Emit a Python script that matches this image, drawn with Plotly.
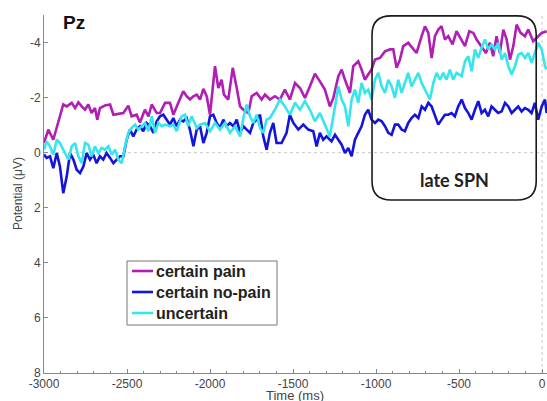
import plotly.graph_objects as go

# ---------------- data ----------------
pain_t = [-3000, -2974, -2944, -2884, -2863, -2833, -2813, -2793, -2773, -2753, -2733, -2713, -2693, -2679,
          -2663, -2633, -2602, -2582, -2552, -2522, -2492, -2472, -2442, -2422, -2392, -2371, -2351, -2321,
          -2301, -2271, -2241, -2221, -2191, -2161, -2141, -2121, -2100, -2080, -2060, -2040, -2020, -2000,
          -1970, -1950, -1930, -1916, -1890, -1863, -1839, -1819, -1799, -1769, -1749, -1719, -1689, -1669,
          -1639, -1609, -1579, -1549, -1519, -1488, -1458, -1428, -1398, -1368, -1338, -1308, -1278, -1257,
          -1227, -1207, -1187, -1157, -1137, -1107, -1087, -1067, -1047, -1027, -1006, -976, -946, -916,
          -896, -876, -856, -836, -806, -776, -756, -725, -705, -685, -665, -645, -625, -605, -585, -565,
          -539, -515, -484, -464, -438, -414, -394, -364, -338, -314, -294, -274, -254, -233, -213, -193,
          -173, -153, -129, -103, -83, -53, -33, -2, 28]
pain_v = [-0.35, -0.84, -0.47, -1.75, -1.68, -1.81, -1.62, -1.83, -1.68, -1.56, -1.75, -1.44, -1.62, -1.20,
          -1.62, -1.71, -1.75, -1.38, -1.41, -1.44, -1.71, -1.32, -1.38, -1.10, -1.56, -1.32, -1.75, -1.44,
          -1.44, -1.81, -1.81, -1.38, -1.81, -2.23, -2.05, -1.93, -2.05, -2.11, -1.93, -2.32, -2.05, -1.38,
          -3.14, -2.35, -2.65, -2.11, -1.93, -3.08, -2.35, -1.68, -1.56, -1.44, -2.05, -2.17, -1.93, -2.11,
          -1.93, -2.05, -1.93, -2.29, -1.93, -2.53, -2.35, -1.99, -2.41, -2.87, -2.59, -2.29, -1.68, -1.99,
          -2.78, -3.02, -2.65, -2.17, -3.14, -3.32, -3.02, -2.65, -2.84, -3.02, -3.38, -3.44, -3.68, -3.75,
          -3.75, -3.08, -3.38, -3.87, -3.99, -3.75, -3.62, -4.23, -4.59, -4.35, -3.44, -4.23, -4.47, -4.59,
          -4.11, -4.23, -3.93, -4.41, -4.11, -3.87, -4.41, -4.35, -4.11, -3.87, -3.62, -3.99, -3.50, -4.23,
          -3.62, -4.47, -4.11, -3.38, -3.87, -4.65, -4.35, -4.23, -4.47, -4.05, -4.17, -4.35, -4.41]

nopain_t = [-3000, -2984, -2964, -2944, -2923, -2904, -2884, -2863, -2843, -2823, -2803, -2783, -2763, -2743,
            -2723, -2703, -2683, -2663, -2643, -2623, -2602, -2582, -2562, -2542, -2522, -2502, -2482, -2462,
            -2442, -2422, -2402, -2382, -2361, -2341, -2321, -2301, -2281, -2261, -2241, -2221, -2201, -2181,
            -2161, -2141, -2121, -2100, -2080, -2060, -2040, -2020, -2000, -1980, -1960, -1940, -1920, -1900,
            -1880, -1859, -1839, -1819, -1799, -1779, -1759, -1739, -1719, -1699, -1679, -1659, -1639, -1619,
            -1599, -1569, -1539, -1519, -1498, -1468, -1438, -1408, -1378, -1358, -1338, -1318, -1298, -1268,
            -1247, -1227, -1207, -1187, -1167, -1147, -1127, -1107, -1087, -1067, -1047, -1027, -1006, -986,
            -966, -946, -926, -906, -886, -866, -846, -826, -806, -786, -766, -745, -725, -705, -685, -665,
            -645, -625, -605, -585, -565, -545, -525, -505, -484, -464, -444, -424, -404, -384, -364, -344,
            -324, -304, -284, -264, -243, -223, -203, -183, -163, -143, -123, -103, -83, -63, -43, -23, -2,
            18, 28]
nopain_v = [0.07, 0.19, 0.13, 0.56, 0.01, 0.50, 1.47, 0.86, 0.01, 0.25, 0.62, 0.74, 0.50, 0.01,
            0.25, 0.07, 0.38, 0.13, 0.25, 0.01, 0.19, 0.38, 0.25, 0.13, 0.13, -0.47, -0.84, -0.59,
            -0.84, -0.96, -0.78, -1.08, -0.96, -0.72, -1.14, -1.32, -1.38, -1.20, -1.02, -1.26, -0.96, -1.20,
            -1.14, -1.26, -0.84, -0.23, -0.84, -0.96, -0.35, -0.72, -1.32, -1.38, -1.08, -0.90, -1.20, -0.96,
            -1.08, -0.96, -1.20, -0.72, -0.96, -0.84, -0.72, -1.08, -1.20, -1.38, -0.59, -0.11, -0.72, -1.08,
            -0.35, -0.35, -0.72, -1.38, -1.08, -0.84, -1.02, -0.84, -0.78, -0.23, -0.72, -0.47, -0.59, -0.41,
            -0.65, -0.47, -0.29, 0.01, -0.17, 0.13, -0.47, -0.72, -0.96, -1.38, -1.56, -1.20, -1.08, -1.20,
            -1.14, -0.96, -0.72, -0.65, -1.02, -1.02, -0.84, -0.78, -1.08, -1.26, -1.38, -1.26, -1.68, -1.56,
            -1.81, -1.68, -1.32, -1.02, -1.20, -1.38, -1.38, -1.44, -1.32, -1.68, -1.93, -1.62, -1.44, -1.20,
            -1.56, -1.87, -1.44, -1.56, -1.32, -1.68, -1.56, -1.44, -1.50, -1.81, -1.68, -1.44, -1.56, -1.68,
            -1.50, -1.62, -1.56, -1.44, -1.81, -1.20, -1.68, -1.93, -1.44]

unc_t = [-3000, -2984, -2964, -2944, -2923, -2904, -2874, -2853, -2833, -2813, -2793, -2773, -2753, -2733,
         -2713, -2693, -2673, -2653, -2633, -2612, -2592, -2572, -2552, -2532, -2512, -2492, -2472, -2452,
         -2432, -2412, -2392, -2371, -2351, -2331, -2311, -2291, -2271, -2241, -2221, -2201, -2171, -2151,
         -2131, -2111, -2080, -2060, -2030, -2000, -1970, -1940, -1910, -1880, -1849, -1819, -1799, -1779,
         -1759, -1739, -1719, -1699, -1679, -1659, -1639, -1609, -1579, -1549, -1519, -1488, -1458, -1428,
         -1398, -1368, -1338, -1308, -1278, -1247, -1227, -1207, -1187, -1167, -1147, -1127, -1107, -1087,
         -1067, -1047, -1027, -1006, -986, -966, -946, -926, -906, -886, -866, -846, -826, -806, -786,
         -766, -745, -725, -695, -675, -655, -635, -615, -595, -575, -555, -535, -515, -484, -464, -444,
         -424, -404, -384, -364, -344, -324, -304, -284, -264, -243, -223, -203, -183, -163, -143, -123,
         -103, -83, -63, -43, -23, -2, 18, 28]
unc_v = [-0.11, -0.41, -0.23, 0.07, -0.47, -0.35, 0.01, 0.25, -0.23, -0.35, 0.13, 0.38, -0.35, -0.29,
         0.13, -0.23, 0.01, -0.17, -0.11, -0.23, 0.07, -0.11, 0.25, 0.38, -0.23, -0.72, -0.90, -1.02,
         -0.84, -0.96, -1.08, -0.78, -1.32, -0.72, -1.08, -0.96, -1.02, -0.96, -1.02, -0.78, -1.32, -1.38,
         -0.96, -1.32, -0.90, -1.02, -1.08, -0.78, -1.08, -0.84, -1.08, -0.72, -0.96, -0.59, -1.26, -1.75,
         -1.32, -1.08, -1.38, -0.90, -0.72, -1.20, -1.26, -1.56, -1.93, -1.68, -1.38, -1.81, -1.56, -1.87,
         -1.56, -1.14, -1.44, -1.02, -0.59, -1.68, -2.41, -1.93, -1.68, -0.96, -1.93, -2.29, -1.81, -2.53,
         -2.17, -2.29, -1.93, -2.65, -2.90, -2.41, -2.17, -2.65, -2.41, -1.99, -2.65, -2.17, -2.53, -2.90, -2.41,
         -2.65, -2.90, -2.53, -2.17, -1.93, -2.53, -2.90, -2.65, -2.90, -2.65, -3.02, -2.65, -2.90, -2.78, -3.32, -3.50,
         -2.96, -3.75, -3.44, -3.81, -4.11, -3.75, -3.93, -3.75, -3.99, -3.38, -3.62, -3.14, -2.84, -3.14, -3.56, -3.62,
         -3.44, -3.62, -3.26, -3.62, -3.99, -3.75, -3.14, -3.02]

series_names = ["certain pain", "certain no-pain", "uncertain"]
series_colors = ["#B01EB4", "#1414DC", "#36E6EA"]

x_ticks = [-3000, -2500, -2000, -1500, -1000, -500, 0]
x_ticklabels = ["-3000", "-2500", "-2000", "-1500", "-1000", "-500", "0"]
y_ticks = [-4, -2, 0, 2, 4, 6, 8]
y_ticklabels = ["-4", "-2", "0", "2", "4", "6", "8"]

# late SPN window (ms) and vertical extent (µV)
spn_x = [-1024, -35]
spn_y = [-4.97, 1.72]

# figure geometry (page body margin is removed, so screen pixels == figure pixels)
W, H = 547, 401
PLOT_L, PLOT_R, PLOT_T, PLOT_B = 44, 547, 15, 373     # plot area in screen pixels
ML, MT = PLOT_L, PLOT_T
MR = W - PLOT_R
MB = H - PLOT_B
PW, PH = W - ML - MR, H - MT - MB


def px_x(px):
    return (px - PLOT_L) / PW


def px_y(py):
    return 1 - (py - PLOT_T) / PH


fig = go.Figure()
for t, v, name, col in zip([pain_t, nopain_t, unc_t], [pain_v, nopain_v, unc_v],
                           series_names, series_colors):
    fig.add_trace(go.Scatter(x=t, y=v, mode="lines", name=name,
                             line=dict(color=col, width=2.6), showlegend=False))

# zero reference lines
fig.add_shape(type="line", xref="paper", yref="y", x0=0, x1=1, y0=0, y1=0,
              line=dict(color="#c8c8c8", width=1, dash="dot"), layer="below")
fig.add_shape(type="line", xref="x", yref="paper", x0=0, x1=0, y0=0, y1=1,
              line=dict(color="#c8c8c8", width=1, dash="dot"), layer="below")

# rounded "late SPN" box
x0, x1 = spn_x
y0, y1 = spn_y
rx, ry = 115, 0.68
path = (f"M {x0+rx},{y0} L {x1-rx},{y0} Q {x1},{y0} {x1},{y0+ry} "
        f"L {x1},{y1-ry} Q {x1},{y1} {x1-rx},{y1} L {x0+rx},{y1} "
        f"Q {x0},{y1} {x0},{y1-ry} L {x0},{y0+ry} Q {x0},{y0} {x0+rx},{y0} Z")
fig.add_shape(type="path", path=path, xref="x", yref="y",
              line=dict(color="#1a1a1a", width=1.6))
fig.add_annotation(x=(x0 + x1) / 2, y=1.0, xref="x", yref="y", text="late SPN",
                   showarrow=False, font=dict(family="Lato", size=18, color="#222", weight="bold"))

fig.add_annotation(xref="paper", yref="paper", x=px_x(61), y=px_y(23), text="Pz",
                   xanchor="left", yanchor="middle", showarrow=False,
                   font=dict(family="Liberation Sans", size=19, color="#111", weight="bold"))

# legend box drawn as in the reference (box, short colour lines, labels)
LEG_L, LEG_R, LEG_T, LEG_B = 127, 277, 261, 325
LEG_ROWS = [271, 292, 313]
fig.add_shape(type="rect", xref="paper", yref="paper",
              x0=px_x(LEG_L), x1=px_x(LEG_R), y0=px_y(LEG_B), y1=px_y(LEG_T),
              line=dict(color="#777", width=1), fillcolor="white", layer="above")
for name, col, ry_px in zip(series_names, series_colors, LEG_ROWS):
    fig.add_shape(type="line", xref="paper", yref="paper",
                  x0=px_x(132), x1=px_x(153), y0=px_y(ry_px), y1=px_y(ry_px),
                  line=dict(color=col, width=2.6), layer="above")
    fig.add_annotation(xref="paper", yref="paper", x=px_x(154), y=px_y(ry_px), text=name,
                       xanchor="left", yanchor="middle", showarrow=False,
                       font=dict(family="Liberation Sans", size=16, color="#222", weight="bold"))

# axis titles placed as in the reference
fig.add_annotation(xref="paper", yref="paper", x=px_x(295), y=px_y(395), text="Time (ms)",
                   xanchor="center", yanchor="middle", showarrow=False,
                   font=dict(family="Liberation Sans", size=13, color="#444"))
fig.add_annotation(xref="paper", yref="paper", x=px_x(18), y=px_y(194), text="Potential (μV)",
                   textangle=-90, xanchor="center", yanchor="middle", showarrow=False,
                   font=dict(family="Liberation Sans", size=12, color="#444"))

fig.update_layout(
    width=W, height=H,
    margin=dict(l=ML, r=MR, t=MT, b=MB, autoexpand=False),
    paper_bgcolor="white", plot_bgcolor="white",
    font=dict(family="Liberation Sans", size=12, color="#444"),
    showlegend=False,
    xaxis=dict(range=[-3000, 30], tickvals=x_ticks, ticktext=x_ticklabels, ticks="inside", ticklen=4,
               tickcolor="#888", showline=True, linecolor="#888", linewidth=1,
               showgrid=False, zeroline=False, automargin=False,
               minor=dict(dtick=100, tick0=-3000, ticks="inside", ticklen=2, tickcolor="#888", showgrid=False),
               tickfont=dict(size=12)),
    yaxis=dict(range=[8, -5], tickvals=y_ticks, ticktext=y_ticklabels, ticks="inside", ticklen=4,
               tickcolor="#888", showline=True, linecolor="#888", linewidth=1,
               showgrid=False, zeroline=False, automargin=False,
               tickfont=dict(size=12)),
)

fig.write_html("out.html", config={"displayModeBar": False},
               post_script="document.body.style.margin='0';document.body.style.overflow='hidden';")
